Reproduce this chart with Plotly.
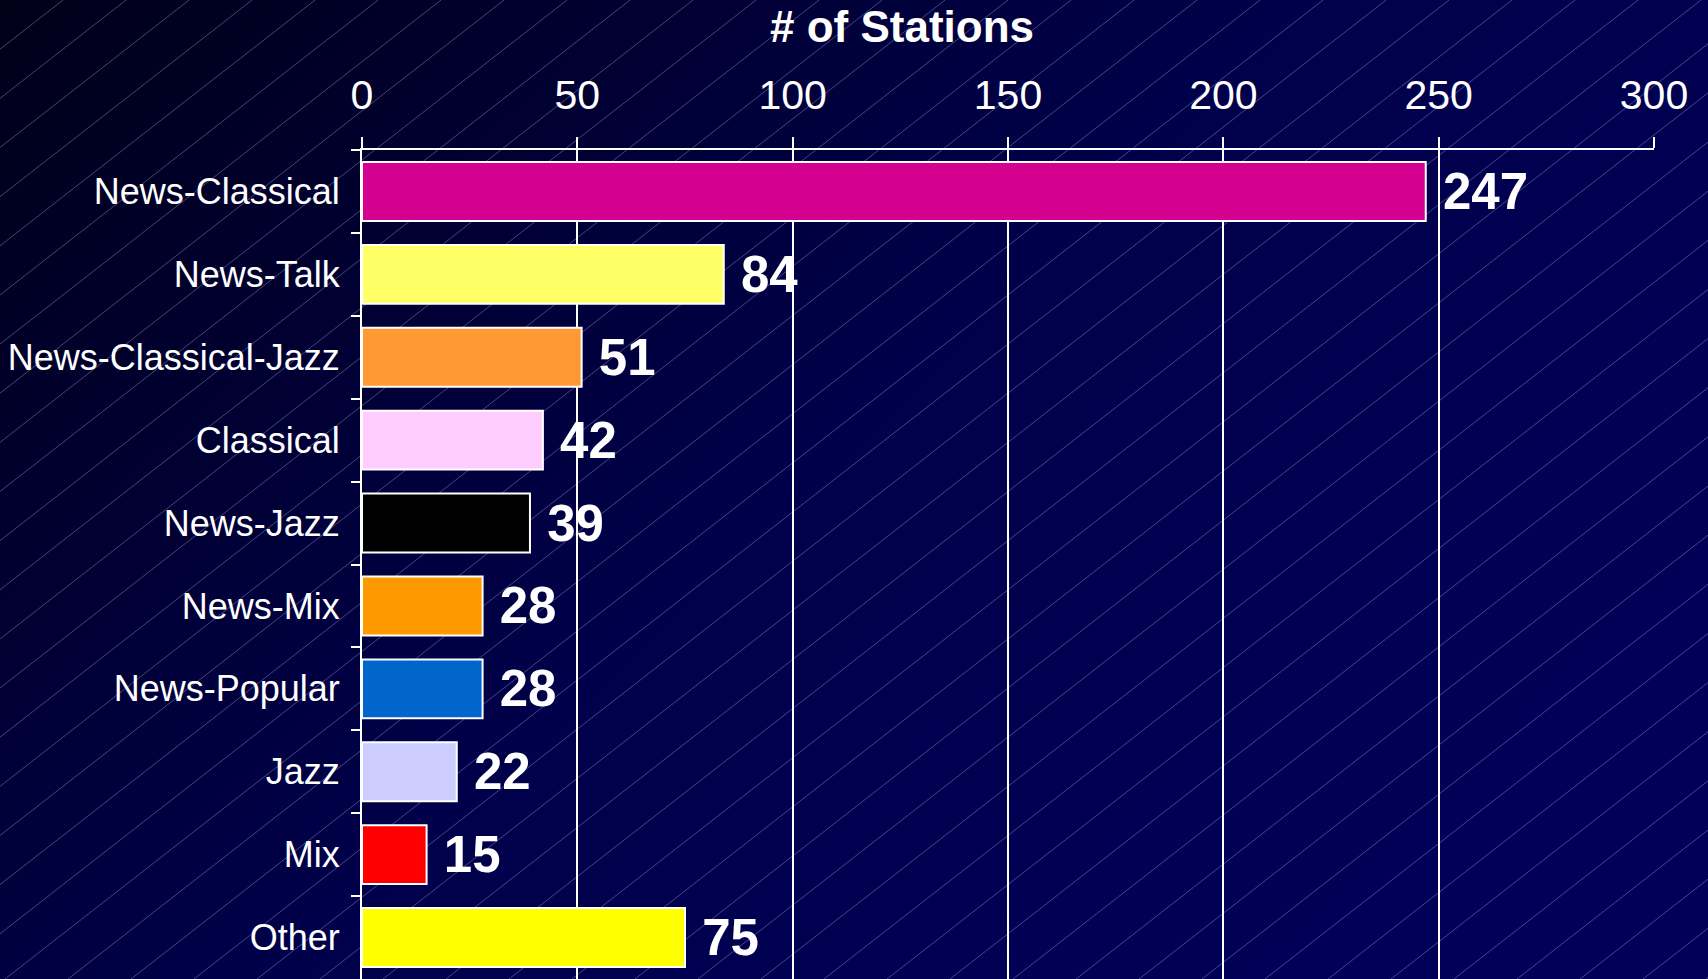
import base64
import plotly.graph_objects as go

categories = ["News-Classical", "News-Talk", "News-Classical-Jazz", "Classical", "News-Jazz",
              "News-Mix", "News-Popular", "Jazz", "Mix", "Other"]
stations = [247, 84, 51, 42, 39, 28, 28, 22, 15, 75]
bar_colors = ["#D4008F", "#FFFF66", "#FF9933", "#FFCCFF", "#000000",
              "#FF9900", "#0066CC", "#CCCCFF", "#FF0000", "#FFFF00"]
x_ticks = [0, 50, 100, 150, 200, 250, 300]
title_text = "# of Stations"

W, H = 1708, 979
ML, MR, MT, MB = 362, 54, 150, 0
PW, PH = W - ML - MR, H - MT - MB

# background: dark navy gradient with faint diagonal lines (decoration)
lines = []
slope = 0.78
step = 63
x = -int(H / slope) - step
while x < W + step:
    lines.append(f'<line x1="{x}" y1="{H}" x2="{x + H / slope:.1f}" y2="0" '
                 f'stroke="#9a9ad0" stroke-opacity="0.45" stroke-width="1"/>')
    x += step
svg = (f'<svg xmlns="http://www.w3.org/2000/svg" width="{W}" height="{H}" viewBox="0 0 {W} {H}">'
       '<defs><linearGradient id="g" x1="0" y1="0" x2="1" y2="0.6">'
       '<stop offset="0" stop-color="#000018"/><stop offset="0.55" stop-color="#00004A"/>'
       '<stop offset="1" stop-color="#000058"/></linearGradient></defs>'
       f'<rect width="{W}" height="{H}" fill="url(#g)"/>' + "".join(lines) + '</svg>')
src = "data:image/svg+xml;base64," + base64.b64encode(svg.encode()).decode()

fig = go.Figure(go.Bar(
    y=categories, x=stations, orientation="h",
    marker=dict(color=bar_colors, line=dict(color="white", width=2)),
    width=0.71,
    text=stations, texttemplate="\u00a0%{x}", textposition="outside",
    constraintext="none", cliponaxis=False,
    textfont=dict(family="Arial Black, Liberation Sans, Arial", size=51, color="white", weight="bold"),
    hoverinfo="skip",
))

fig.update_layout(
    width=W, height=H,
    margin=dict(l=ML, r=MR, t=MT, b=MB, pad=0),
    paper_bgcolor="#000033", plot_bgcolor="rgba(0,0,0,0)",
    showlegend=False,
    bargap=0.29,
    images=[dict(source=src, xref="paper", yref="paper",
                 x=-ML / PW, y=1 + MT / PH, sizex=W / PW, sizey=H / PH,
                 xanchor="left", yanchor="top", sizing="stretch", layer="below")],
    xaxis=dict(side="top", range=[0, 300], tickvals=x_ticks,
               showgrid=True, gridcolor="white", gridwidth=2,
               showline=True, linecolor="white", linewidth=2,
               ticks="outside", ticklen=11, tickwidth=2, tickcolor="white",
               ticklabelstandoff=12,
               tickfont=dict(family="Liberation Sans, Arial", size=41, color="white"),
               zeroline=False, fixedrange=True),
    yaxis=dict(categoryorder="array", categoryarray=categories, autorange="reversed",
               showline=True, linecolor="white", linewidth=2,
               ticks="outside", tickson="boundaries", ticklen=9, tickwidth=2, tickcolor="white",
               ticklabelstandoff=13,
               tickfont=dict(family="Liberation Sans, Arial", size=36, color="white"),
               showgrid=False, zeroline=False, fixedrange=True),
    annotations=[dict(text=title_text, xref="paper", yref="paper",
                      x=(902 - ML) / PW, y=1 + (MT - 26) / PH,
                      xanchor="center", yanchor="middle", showarrow=False,
                      font=dict(family="Arial Black, Liberation Sans, Arial", size=44,
                                color="white", weight="bold"))],
)

fig.write_html("out.html", config={"displayModeBar": False},
               post_script="document.body.style.margin='0';document.body.style.background='#000033';")
